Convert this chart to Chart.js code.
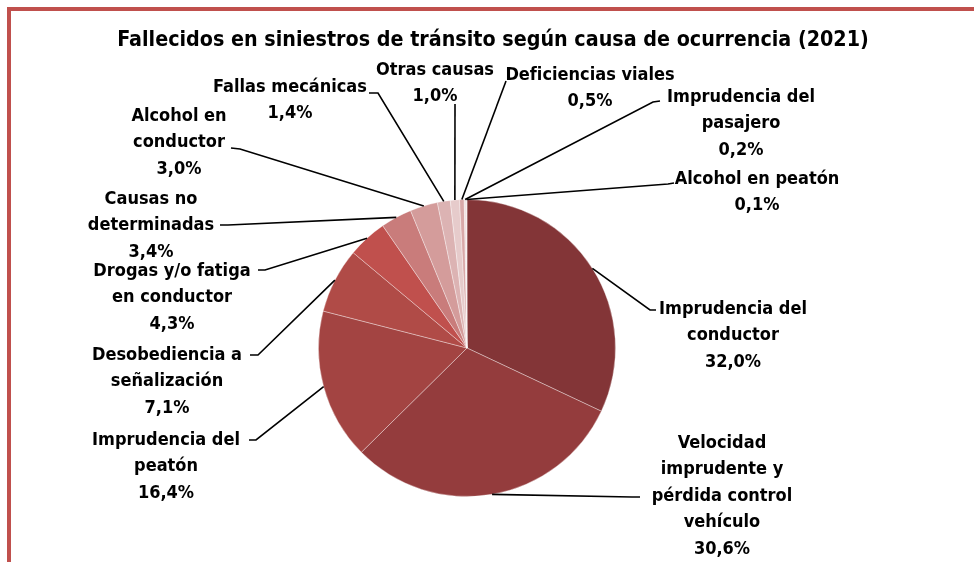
<!DOCTYPE html>
<html lang="es">
<head>
<meta charset="UTF-8">
<title>Fallecidos en siniestros de tránsito</title>
<style>
  html, body { margin: 0; padding: 0; background: #fff; }
  #wrap { width: 974px; height: 562px; }
</style>
</head>
<body>
<div id="wrap"><canvas id="pie"></canvas></div>

<script src="https://cdn.jsdelivr.net/npm/chart.js"></script>
<script>
// data
const categories = [
  'Imprudencia del conductor',
  'Velocidad imprudente y pérdida control vehículo',
  'Imprudencia del peatón',
  'Desobediencia a señalización',
  'Drogas y/o fatiga en conductor',
  'Causas no determinadas',
  'Alcohol en conductor',
  'Fallas mecánicas',
  'Otras causas',
  'Deficiencias viales',
  'Imprudencia del pasajero',
  'Alcohol en peatón'
];
const values = [32.0, 30.6, 16.4, 7.1, 4.3, 3.4, 3.0, 1.4, 1.0, 0.5, 0.2, 0.1];
// how each label is broken into lines
const labelLines = [
  ['Imprudencia del', 'conductor'],
  ['Velocidad', 'imprudente y', 'pérdida control', 'vehículo'],
  ['Imprudencia del', 'peatón'],
  ['Desobediencia a', 'señalización'],
  ['Drogas y/o fatiga', 'en conductor'],
  ['Causas no', 'determinadas'],
  ['Alcohol en', 'conductor'],
  ['Fallas mecánicas'],
  ['Otras causas'],
  ['Deficiencias viales'],
  ['Imprudencia del', 'pasajero'],
  ['Alcohol en peatón']
];

const colors = ['#833537', '#943c3d', '#a34442', '#b04b47', '#c0504d', '#c97c7b',
                '#d49c9b', '#dcb3b3', '#e6cbcb', '#d9a8a8', '#eedada', '#f2e4e4'];

// label placement: text centre x, first line y, leader end (ex,ey), stub end (sx,sy)
const labelPos = [
  { x: 733, y: 309, ex: 650, ey: 310, sx: 656, sy: 310 },
  { x: 722, y: 443, ex: 632, ey: 497, sx: 640, sy: 497 },
  { x: 166, y: 440, ex: 256, ey: 440, sx: 249, sy: 440 },
  { x: 167, y: 355, ex: 258, ey: 355, sx: 250, sy: 355 },
  { x: 172, y: 271, ex: 265, ey: 270, sx: 258, sy: 270 },
  { x: 151, y: 199, ex: 228, ey: 225, sx: 220, sy: 225 },
  { x: 179, y: 116, ex: 240, ey: 149, sx: 231, sy: 148 },
  { x: 290, y: 87,  ex: 378, ey: 93,  sx: 369, sy: 93 },
  { x: 435, y: 70,  ex: 455, ey: 104, sx: 455, sy: 104 },
  { x: 590, y: 75,  ex: 506, ey: 81,  sx: 506, sy: 81 },
  { x: 741, y: 97,  ex: 653, ey: 102, sx: 660, sy: 101 },
  { x: 757, y: 179, ex: 668, ey: 184, sx: 674, sy: 183 }
];

const FONT = "'Liberation Sans Narrow', 'DejaVu Sans Condensed', 'Noto Sans', sans-serif";
const LINE_H = 26.5;

const decorPlugin = {
  id: 'decor',
  beforeDraw(chart) {
    const ctx = chart.ctx;
    ctx.save();
    ctx.fillStyle = '#fff';
    ctx.fillRect(0, 0, chart.width, chart.height);
    // frame
    ctx.strokeStyle = '#c0504d';
    ctx.lineWidth = 4;
    ctx.beginPath();
    ctx.moveTo(chart.width + 5, 9);
    ctx.lineTo(9, 9);
    ctx.lineTo(9, chart.height + 5);
    ctx.stroke();
    // title
    ctx.fillStyle = '#000';
    ctx.font = 'bold 21.3px ' + FONT;
    ctx.textAlign = 'center';
    ctx.textBaseline = 'middle';
    ctx.fillText('Fallecidos en siniestros de tránsito según causa de ocurrencia (2021)', 493, 40);
    ctx.restore();
  },
  afterDatasetsDraw(chart) {
    const ctx = chart.ctx;
    const meta = chart.getDatasetMeta(0);
    ctx.save();
    ctx.strokeStyle = '#000';
    ctx.lineWidth = 1.6;
    ctx.fillStyle = '#000';
    ctx.font = 'bold 18px ' + FONT;
    ctx.textAlign = 'center';
    ctx.textBaseline = 'middle';
    meta.data.forEach((arc, i) => {
      const p = arc.getProps(['x', 'y', 'startAngle', 'endAngle', 'outerRadius'], true);
      const mid = (p.startAngle + p.endAngle) / 2;
      const px = p.x + Math.cos(mid) * p.outerRadius;
      const py = p.y + Math.sin(mid) * p.outerRadius;
      const pos = labelPos[i];
      ctx.beginPath();
      ctx.moveTo(px, py);
      ctx.lineTo(pos.ex, pos.ey);
      ctx.lineTo(pos.sx, pos.sy);
      ctx.stroke();
      const lines = labelLines[i].concat([values[i].toFixed(1).replace('.', ',') + '%']);
      lines.forEach((t, k) => ctx.fillText(t, pos.x, pos.y + k * LINE_H));
    });
    ctx.restore();
  }
};

new Chart(document.getElementById('pie'), {
  type: 'pie',
  data: {
    labels: categories,
    datasets: [{
      data: values,
      backgroundColor: colors,
      borderColor: 'rgba(255,255,255,0.35)',
      borderWidth: 1
    }]
  },
  options: {
    responsive: true,
    maintainAspectRatio: false,
    animation: false,
    layout: { padding: { top: 199, bottom: 65, left: 318, right: 358 } },
    plugins: {
      legend: { display: false },
      title: { display: false },
      tooltip: { enabled: false }
    }
  },
  plugins: [decorPlugin]
});
</script>
</body>
</html>
